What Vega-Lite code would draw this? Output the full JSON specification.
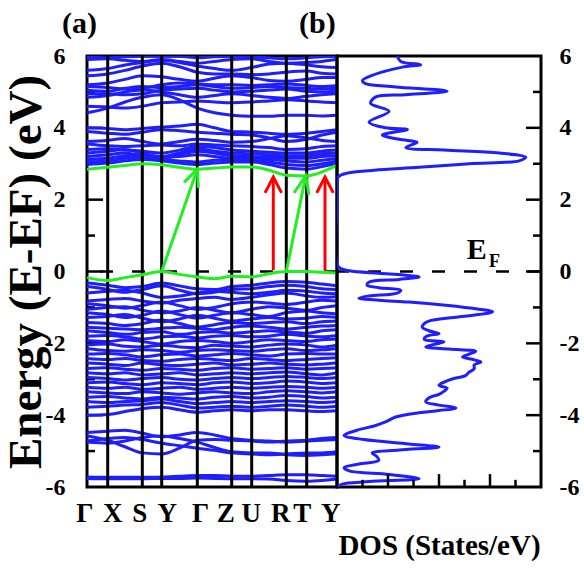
{
  "$schema": "https://vega.github.io/schema/vega-lite/v6.json",
  "padding": {"left": 0, "top": 7, "right": 0, "bottom": 0},
  "spacing": 0,
  "bounds": "flush",
  "config": {
    "font": "Liberation Serif",
    "view": {"stroke": "black", "strokeWidth": 3},
    "axis": {"grid": false, "ticks": false, "domain": false, "labelFont": "Liberation Serif", "labelFontWeight": "bold", "labelColor": "black", "titleFont": "Liberation Serif", "titleFontWeight": "bold", "titleColor": "black"}
  },
  "hconcat": [
    {
      "width": 250,
      "height": 431,
      "layer": [
        {
          "data": {"values": [{"e": -4}, {"e": -2}, {"e": 0}, {"e": 2}, {"e": 4}]},
          "mark": {"type": "rule", "color": "black", "strokeWidth": 2.5},
          "encoding": {
            "y": {"field": "e", "type": "quantitative", "scale": {"domain": [-6, 6], "nice": false, "zero": false}, "axis": {"values": [-6, -4, -2, 0, 2, 4, 6], "labelExpr": "'' + datum.value", "labelFontSize": 24, "labelPadding": 22, "title": "Energy (E-EF) (eV)", "titleFontSize": 47, "titlePadding": -5}},
            "x": {"datum": 0, "type": "quantitative", "scale": {"domain": [0, 250], "nice": false, "zero": false}, "axis": null},
            "x2": {"datum": 16}
          }
        },
        {
          "data": {"values": [{"e": -5}, {"e": -3}, {"e": -1}, {"e": 1}, {"e": 3}, {"e": 5}]},
          "mark": {"type": "rule", "color": "black", "strokeWidth": 2.5},
          "encoding": {
            "y": {"field": "e", "type": "quantitative"},
            "x": {"datum": 0, "type": "quantitative", "axis": null},
            "x2": {"datum": 8}
          }
        },
        {
          "data": {"values": [{"k": 0}]},
          "mark": {"type": "rule", "color": "black", "strokeWidth": 2.5, "strokeDash": [13, 19]},
          "encoding": {"y": {"datum": 0, "type": "quantitative"}}
        },
        {
          "data": {"values": [
            {"b": "c1", "p0": 2.98, "p1": 3.02, "p2": 3.08, "p3": 3.12, "p4": 3.08, "p5": 3.02, "p6": 2.98, "p7": 3.02, "p8": 3.05, "p9": 3.05, "p10": 2.98, "p11": 2.88, "p12": 2.85, "p13": 2.92, "p14": 3.02},
            {"b": "c2", "p0": 3.05, "p1": 3.08, "p2": 3.15, "p3": 3.18, "p4": 3.12, "p5": 3.08, "p6": 3.05, "p7": 3.1, "p8": 3.12, "p9": 3.1, "p10": 3.05, "p11": 2.98, "p12": 2.95, "p13": 3.0, "p14": 3.08},
            {"b": "c3", "p0": 3.12, "p1": 3.15, "p2": 3.22, "p3": 3.25, "p4": 3.18, "p5": 3.2, "p6": 3.25, "p7": 3.2, "p8": 3.15, "p9": 3.15, "p10": 3.12, "p11": 3.08, "p12": 3.05, "p13": 3.1, "p14": 3.15},
            {"b": "c4", "p0": 3.2, "p1": 3.25, "p2": 3.3, "p3": 3.22, "p4": 3.15, "p5": 3.25, "p6": 3.35, "p7": 3.3, "p8": 3.22, "p9": 3.2, "p10": 3.18, "p11": 3.15, "p12": 3.15, "p13": 3.2, "p14": 3.22},
            {"b": "c5", "p0": 3.3, "p1": 3.35, "p2": 3.4, "p3": 3.3, "p4": 3.2, "p5": 3.3, "p6": 3.42, "p7": 3.35, "p8": 3.3, "p9": 3.28, "p10": 3.25, "p11": 3.22, "p12": 3.22, "p13": 3.28, "p14": 3.3},
            {"b": "c6", "p0": 3.4, "p1": 3.42, "p2": 3.38, "p3": 3.35, "p4": 3.3, "p5": 3.38, "p6": 3.48, "p7": 3.45, "p8": 3.38, "p9": 3.35, "p10": 3.32, "p11": 3.3, "p12": 3.3, "p13": 3.35, "p14": 3.38},
            {"b": "c7", "p0": 3.55, "p1": 3.5, "p2": 3.48, "p3": 3.5, "p4": 3.52, "p5": 3.5, "p6": 3.55, "p7": 3.52, "p8": 3.5, "p9": 3.48, "p10": 3.45, "p11": 3.4, "p12": 3.42, "p13": 3.48, "p14": 3.5},
            {"b": "c8", "p0": 3.62, "p1": 3.65, "p2": 3.7, "p3": 3.62, "p4": 3.55, "p5": 3.62, "p6": 3.68, "p7": 3.65, "p8": 3.6, "p9": 3.62, "p10": 3.7, "p11": 3.78, "p12": 3.72, "p13": 3.65, "p14": 3.62},
            {"b": "c9", "p0": 3.9, "p1": 3.85, "p2": 3.82, "p3": 3.88, "p4": 3.95, "p5": 3.92, "p6": 3.88, "p7": 3.85, "p8": 3.82, "p9": 3.8, "p10": 3.72, "p11": 3.62, "p12": 3.68, "p13": 3.8, "p14": 3.88},
            {"b": "c10", "p0": 4.0, "p1": 3.98, "p2": 3.95, "p3": 3.98, "p4": 4.02, "p5": 4.05, "p6": 4.1, "p7": 4.0, "p8": 3.9, "p9": 3.88, "p10": 3.85, "p11": 3.82, "p12": 3.85, "p13": 3.9, "p14": 3.95},
            {"b": "c11", "p0": 4.42, "p1": 4.55, "p2": 4.72, "p3": 4.85, "p4": 4.92, "p5": 4.78, "p6": 4.55, "p7": 4.42, "p8": 4.35, "p9": 4.32, "p10": 4.32, "p11": 4.35, "p12": 4.35, "p13": 4.33, "p14": 4.35},
            {"b": "c12", "p0": 4.6, "p1": 4.58, "p2": 4.55, "p3": 4.6, "p4": 4.7, "p5": 4.72, "p6": 4.75, "p7": 4.72, "p8": 4.7, "p9": 4.72, "p10": 4.75, "p11": 4.78, "p12": 4.75, "p13": 4.72, "p14": 4.7},
            {"b": "c13", "p0": 4.85, "p1": 4.9, "p2": 5.0, "p3": 5.05, "p4": 5.0, "p5": 4.92, "p6": 4.85, "p7": 4.9, "p8": 4.95, "p9": 4.9, "p10": 4.85, "p11": 4.82, "p12": 4.88, "p13": 4.92, "p14": 4.95},
            {"b": "c14", "p0": 4.95, "p1": 4.95, "p2": 4.92, "p3": 4.95, "p4": 5.05, "p5": 5.08, "p6": 5.1, "p7": 5.05, "p8": 5.0, "p9": 5.02, "p10": 5.05, "p11": 5.08, "p12": 5.02, "p13": 5.0, "p14": 5.02},
            {"b": "c15", "p0": 5.05, "p1": 5.02, "p2": 5.1, "p3": 5.15, "p4": 5.12, "p5": 5.15, "p6": 5.2, "p7": 5.15, "p8": 5.1, "p9": 5.12, "p10": 5.15, "p11": 5.12, "p12": 5.1, "p13": 5.08, "p14": 5.1},
            {"b": "c16", "p0": 5.15, "p1": 5.12, "p2": 5.08, "p3": 5.1, "p4": 5.2, "p5": 5.25, "p6": 5.22, "p7": 5.2, "p8": 5.2, "p9": 5.18, "p10": 5.2, "p11": 5.22, "p12": 5.18, "p13": 5.15, "p14": 5.18},
            {"b": "c17", "p0": 5.2, "p1": 5.25, "p2": 5.35, "p3": 5.45, "p4": 5.42, "p5": 5.35, "p6": 5.3, "p7": 5.38, "p8": 5.45, "p9": 5.4, "p10": 5.32, "p11": 5.3, "p12": 5.35, "p13": 5.4, "p14": 5.4},
            {"b": "c18", "p0": 5.45, "p1": 5.5, "p2": 5.6, "p3": 5.72, "p4": 5.8, "p5": 5.7, "p6": 5.55, "p7": 5.5, "p8": 5.5, "p9": 5.48, "p10": 5.5, "p11": 5.55, "p12": 5.58, "p13": 5.52, "p14": 5.5},
            {"b": "c19", "p0": 5.6, "p1": 5.65, "p2": 5.75, "p3": 5.82, "p4": 5.88, "p5": 5.82, "p6": 5.72, "p7": 5.65, "p8": 5.6, "p9": 5.68, "p10": 5.78, "p11": 5.8, "p12": 5.75, "p13": 5.7, "p14": 5.68},
            {"b": "c20", "p0": 5.9, "p1": 5.92, "p2": 5.88, "p3": 5.85, "p4": 5.9, "p5": 5.85, "p6": 5.8, "p7": 5.85, "p8": 5.9, "p9": 5.92, "p10": 5.85, "p11": 5.8, "p12": 5.82, "p13": 5.85, "p14": 5.9},
            {"b": "c21", "p0": 5.98, "p1": 5.95, "p2": 5.98, "p3": 5.99, "p4": 5.99, "p5": 5.99, "p6": 5.95, "p7": 5.98, "p8": 5.99, "p9": 5.98, "p10": 5.95, "p11": 5.92, "p12": 5.95, "p13": 5.98, "p14": 5.99},
            {"b": "v1", "p0": -0.32, "p1": -0.38, "p2": -0.45, "p3": -0.42, "p4": -0.32, "p5": -0.4, "p6": -0.48, "p7": -0.5, "p8": -0.42, "p9": -0.38, "p10": -0.32, "p11": -0.28, "p12": -0.3, "p13": -0.35, "p14": -0.4},
            {"b": "v2", "p0": -0.42, "p1": -0.5, "p2": -0.58, "p3": -0.5, "p4": -0.4, "p5": -0.52, "p6": -0.62, "p7": -0.58, "p8": -0.5, "p9": -0.48, "p10": -0.42, "p11": -0.38, "p12": -0.42, "p13": -0.48, "p14": -0.5},
            {"b": "v3", "p0": -0.6, "p1": -0.55, "p2": -0.52, "p3": -0.6, "p4": -0.72, "p5": -0.68, "p6": -0.6, "p7": -0.55, "p8": -0.58, "p9": -0.62, "p10": -0.58, "p11": -0.52, "p12": -0.55, "p13": -0.6, "p14": -0.62},
            {"b": "v4", "p0": -0.82, "p1": -0.78, "p2": -0.75, "p3": -0.82, "p4": -0.88, "p5": -0.8, "p6": -0.75, "p7": -0.72, "p8": -0.78, "p9": -0.72, "p10": -0.65, "p11": -0.6, "p12": -0.68, "p13": -0.72, "p14": -0.7},
            {"b": "v5", "p0": -0.9, "p1": -0.95, "p2": -1.02, "p3": -0.95, "p4": -0.85, "p5": -0.95, "p6": -1.05, "p7": -1.0, "p8": -0.9, "p9": -0.85, "p10": -0.88, "p11": -0.92, "p12": -0.85, "p13": -0.8, "p14": -0.82},
            {"b": "v6", "p0": -1.05, "p1": -1.0, "p2": -0.98, "p3": -1.08, "p4": -1.15, "p5": -1.1, "p6": -1.0, "p7": -1.08, "p8": -1.15, "p9": -1.05, "p10": -0.98, "p11": -1.02, "p12": -1.08, "p13": -1.0, "p14": -0.95},
            {"b": "v7", "p0": -1.15, "p1": -1.2, "p2": -1.28, "p3": -1.22, "p4": -1.1, "p5": -1.2, "p6": -1.3, "p7": -1.22, "p8": -1.15, "p9": -1.2, "p10": -1.25, "p11": -1.15, "p12": -1.1, "p13": -1.15, "p14": -1.18},
            {"b": "v8", "p0": -1.28, "p1": -1.25, "p2": -1.2, "p3": -1.3, "p4": -1.4, "p5": -1.32, "p6": -1.22, "p7": -1.3, "p8": -1.38, "p9": -1.32, "p10": -1.28, "p11": -1.32, "p12": -1.3, "p13": -1.25, "p14": -1.28},
            {"b": "v9", "p0": -1.42, "p1": -1.45, "p2": -1.5, "p3": -1.45, "p4": -1.35, "p5": -1.45, "p6": -1.55, "p7": -1.48, "p8": -1.42, "p9": -1.45, "p10": -1.42, "p11": -1.4, "p12": -1.45, "p13": -1.4, "p14": -1.38},
            {"b": "v10", "p0": -1.55, "p1": -1.58, "p2": -1.6, "p3": -1.62, "p4": -1.58, "p5": -1.55, "p6": -1.58, "p7": -1.62, "p8": -1.55, "p9": -1.52, "p10": -1.55, "p11": -1.6, "p12": -1.55, "p13": -1.52, "p14": -1.5},
            {"b": "v11", "p0": -1.65, "p1": -1.7, "p2": -1.75, "p3": -1.7, "p4": -1.68, "p5": -1.75, "p6": -1.7, "p7": -1.68, "p8": -1.72, "p9": -1.68, "p10": -1.65, "p11": -1.68, "p12": -1.72, "p13": -1.65, "p14": -1.62},
            {"b": "v12", "p0": -1.8, "p1": -1.78, "p2": -1.82, "p3": -1.88, "p4": -1.82, "p5": -1.8, "p6": -1.85, "p7": -1.8, "p8": -1.78, "p9": -1.82, "p10": -1.8, "p11": -1.75, "p12": -1.8, "p13": -1.82, "p14": -1.78},
            {"b": "v13", "p0": -1.92, "p1": -1.95, "p2": -1.9, "p3": -1.95, "p4": -2.02, "p5": -1.95, "p6": -1.92, "p7": -1.95, "p8": -2.0, "p9": -1.95, "p10": -1.9, "p11": -1.92, "p12": -1.95, "p13": -1.9, "p14": -1.88},
            {"b": "v14", "p0": -2.05, "p1": -2.02, "p2": -2.08, "p3": -2.1, "p4": -2.05, "p5": -2.1, "p6": -2.12, "p7": -2.05, "p8": -2.08, "p9": -2.1, "p10": -2.05, "p11": -2.02, "p12": -2.05, "p13": -2.1, "p14": -2.05},
            {"b": "v15", "p0": -2.15, "p1": -2.2, "p2": -2.22, "p3": -2.18, "p4": -2.2, "p5": -2.25, "p6": -2.2, "p7": -2.18, "p8": -2.2, "p9": -2.22, "p10": -2.18, "p11": -2.15, "p12": -2.2, "p13": -2.18, "p14": -2.15},
            {"b": "v16", "p0": -2.3, "p1": -2.28, "p2": -2.32, "p3": -2.38, "p4": -2.32, "p5": -2.3, "p6": -2.35, "p7": -2.32, "p8": -2.28, "p9": -2.32, "p10": -2.35, "p11": -2.3, "p12": -2.28, "p13": -2.3, "p14": -2.3},
            {"b": "v17", "p0": -2.42, "p1": -2.45, "p2": -2.42, "p3": -2.48, "p4": -2.5, "p5": -2.45, "p6": -2.42, "p7": -2.45, "p8": -2.48, "p9": -2.42, "p10": -2.45, "p11": -2.48, "p12": -2.45, "p13": -2.42, "p14": -2.4},
            {"b": "v18", "p0": -2.55, "p1": -2.58, "p2": -2.62, "p3": -2.55, "p4": -2.6, "p5": -2.62, "p6": -2.58, "p7": -2.55, "p8": -2.6, "p9": -2.58, "p10": -2.55, "p11": -2.58, "p12": -2.6, "p13": -2.58, "p14": -2.55},
            {"b": "v19", "p0": -2.7, "p1": -2.68, "p2": -2.72, "p3": -2.75, "p4": -2.7, "p5": -2.72, "p6": -2.75, "p7": -2.7, "p8": -2.68, "p9": -2.72, "p10": -2.7, "p11": -2.68, "p12": -2.72, "p13": -2.7, "p14": -2.68},
            {"b": "v20", "p0": -2.82, "p1": -2.85, "p2": -2.82, "p3": -2.88, "p4": -2.85, "p5": -2.82, "p6": -2.88, "p7": -2.85, "p8": -2.82, "p9": -2.85, "p10": -2.82, "p11": -2.8, "p12": -2.85, "p13": -2.88, "p14": -2.82},
            {"b": "v21", "p0": -2.95, "p1": -2.98, "p2": -3.02, "p3": -2.98, "p4": -2.95, "p5": -3.0, "p6": -3.02, "p7": -2.98, "p8": -2.95, "p9": -2.98, "p10": -2.95, "p11": -2.92, "p12": -2.95, "p13": -2.98, "p14": -2.95},
            {"b": "v22", "p0": -3.1, "p1": -3.08, "p2": -3.12, "p3": -3.15, "p4": -3.1, "p5": -3.12, "p6": -3.15, "p7": -3.1, "p8": -3.08, "p9": -3.12, "p10": -3.1, "p11": -3.05, "p12": -3.08, "p13": -3.12, "p14": -3.1},
            {"b": "v23", "p0": -3.22, "p1": -3.25, "p2": -3.22, "p3": -3.28, "p4": -3.25, "p5": -3.22, "p6": -3.28, "p7": -3.25, "p8": -3.22, "p9": -3.25, "p10": -3.22, "p11": -3.2, "p12": -3.22, "p13": -3.25, "p14": -3.22},
            {"b": "v24", "p0": -3.35, "p1": -3.38, "p2": -3.4, "p3": -3.35, "p4": -3.38, "p5": -3.42, "p6": -3.38, "p7": -3.35, "p8": -3.38, "p9": -3.4, "p10": -3.35, "p11": -3.32, "p12": -3.35, "p13": -3.38, "p14": -3.35},
            {"b": "v25", "p0": -3.5, "p1": -3.48, "p2": -3.52, "p3": -3.55, "p4": -3.5, "p5": -3.52, "p6": -3.55, "p7": -3.5, "p8": -3.48, "p9": -3.52, "p10": -3.5, "p11": -3.45, "p12": -3.48, "p13": -3.52, "p14": -3.5},
            {"b": "v26", "p0": -3.62, "p1": -3.65, "p2": -3.62, "p3": -3.6, "p4": -3.55, "p5": -3.62, "p6": -3.68, "p7": -3.65, "p8": -3.62, "p9": -3.65, "p10": -3.62, "p11": -3.6, "p12": -3.62, "p13": -3.65, "p14": -3.62},
            {"b": "v27", "p0": -3.78, "p1": -3.75, "p2": -3.72, "p3": -3.7, "p4": -3.65, "p5": -3.72, "p6": -3.8, "p7": -3.78, "p8": -3.75, "p9": -3.78, "p10": -3.75, "p11": -3.72, "p12": -3.75, "p13": -3.78, "p14": -3.75},
            {"b": "v28", "p0": -4.0, "p1": -3.98, "p2": -3.9, "p3": -3.82, "p4": -3.78, "p5": -3.85, "p6": -3.92, "p7": -3.88, "p8": -3.85, "p9": -3.88, "p10": -3.85, "p11": -3.85, "p12": -3.88, "p13": -3.9, "p14": -3.88},
            {"b": "v29", "p0": -4.48, "p1": -4.45, "p2": -4.42, "p3": -4.5, "p4": -4.6, "p5": -4.55, "p6": -4.48, "p7": -4.55, "p8": -4.65, "p9": -4.7, "p10": -4.72, "p11": -4.75, "p12": -4.72, "p13": -4.7, "p14": -4.68},
            {"b": "v30", "p0": -4.58, "p1": -4.7, "p2": -4.88, "p3": -5.05, "p4": -5.08, "p5": -4.92, "p6": -4.7, "p7": -4.68, "p8": -4.7, "p9": -4.72, "p10": -4.75, "p11": -4.72, "p12": -4.7, "p13": -4.65, "p14": -4.62},
            {"b": "v31", "p0": -4.72, "p1": -4.65, "p2": -4.62, "p3": -4.68, "p4": -4.78, "p5": -4.85, "p6": -4.92, "p7": -4.98, "p8": -5.05, "p9": -5.08, "p10": -5.1, "p11": -5.08, "p12": -5.05, "p13": -5.05, "p14": -5.02},
            {"b": "v32", "p0": -4.75, "p1": -4.78, "p2": -4.72, "p3": -4.62, "p4": -4.58, "p5": -4.65, "p6": -4.75, "p7": -4.9, "p8": -5.02, "p9": -5.05, "p10": -5.05, "p11": -5.1, "p12": -5.12, "p13": -5.1, "p14": -5.08},
            {"b": "v33", "p0": -5.72, "p1": -5.73, "p2": -5.73, "p3": -5.73, "p4": -5.72, "p5": -5.7, "p6": -5.68, "p7": -5.68, "p8": -5.7, "p9": -5.7, "p10": -5.68, "p11": -5.66, "p12": -5.66, "p13": -5.68, "p14": -5.7},
            {"b": "v34", "p0": -5.76, "p1": -5.77, "p2": -5.77, "p3": -5.77, "p4": -5.76, "p5": -5.76, "p6": -5.75, "p7": -5.76, "p8": -5.77, "p9": -5.77, "p10": -5.78, "p11": -5.82, "p12": -5.84, "p13": -5.82, "p14": -5.78}
          ]},
          "transform": [
            {"fold": ["p0", "p1", "p2", "p3", "p4", "p5", "p6", "p7", "p8", "p9", "p10", "p11", "p12", "p13", "p14"], "as": ["pt", "e"]},
            {"lookup": "pt", "from": {"data": {"values": [
              {"pt": "p0", "k": 0}, {"pt": "p1", "k": 20.7}, {"pt": "p2", "k": 38}, {"pt": "p3", "k": 55.3}, {"pt": "p4", "k": 74.7},
              {"pt": "p5", "k": 92.5}, {"pt": "p6", "k": 110.3}, {"pt": "p7", "k": 127.5}, {"pt": "p8", "k": 144.7}, {"pt": "p9", "k": 164.7},
              {"pt": "p10", "k": 182}, {"pt": "p11", "k": 199.3}, {"pt": "p12", "k": 219.7}, {"pt": "p13", "k": 235}, {"pt": "p14", "k": 250}
            ]}, "key": "pt", "fields": ["k"]}}
          ],
          "mark": {"type": "line", "color": "#1e1eff", "strokeWidth": 3, "interpolate": "monotone", "clip": true},
          "encoding": {
            "x": {"field": "k", "type": "quantitative", "axis": null},
            "y": {"field": "e", "type": "quantitative"},
            "detail": {"field": "b"}
          }
        },
        {
          "data": {"values": [{"k": 20.7}, {"k": 55.3}, {"k": 74.7}, {"k": 110.3}, {"k": 144.7}, {"k": 164.7}, {"k": 199.3}, {"k": 219.7}]},
          "mark": {"type": "rule", "color": "black", "strokeWidth": 3},
          "encoding": {"x": {"field": "k", "type": "quantitative", "axis": null}}
        },
        {
          "data": {"values": [
            {"g": "cbm", "k": 0, "e": 2.85}, {"g": "cbm", "k": 20.7, "e": 2.9}, {"g": "cbm", "k": 38, "e": 2.95}, {"g": "cbm", "k": 55.3, "e": 3.0}, {"g": "cbm", "k": 74.7, "e": 2.97},
            {"g": "cbm", "k": 92.5, "e": 2.9}, {"g": "cbm", "k": 110.3, "e": 2.85}, {"g": "cbm", "k": 127.5, "e": 2.88}, {"g": "cbm", "k": 144.7, "e": 2.91}, {"g": "cbm", "k": 164.7, "e": 2.91},
            {"g": "cbm", "k": 182, "e": 2.82}, {"g": "cbm", "k": 199.3, "e": 2.68}, {"g": "cbm", "k": 219.7, "e": 2.66}, {"g": "cbm", "k": 235, "e": 2.77}, {"g": "cbm", "k": 250, "e": 2.96},
            {"g": "vbm", "k": 0, "e": -0.17}, {"g": "vbm", "k": 20.7, "e": -0.25}, {"g": "vbm", "k": 38, "e": -0.17}, {"g": "vbm", "k": 55.3, "e": -0.09}, {"g": "vbm", "k": 74.7, "e": 0.0},
            {"g": "vbm", "k": 92.5, "e": -0.08}, {"g": "vbm", "k": 110.3, "e": -0.15}, {"g": "vbm", "k": 127.5, "e": -0.2}, {"g": "vbm", "k": 144.7, "e": -0.13}, {"g": "vbm", "k": 164.7, "e": -0.15},
            {"g": "vbm", "k": 182, "e": -0.06}, {"g": "vbm", "k": 199.3, "e": 0.0}, {"g": "vbm", "k": 219.7, "e": 0.0}, {"g": "vbm", "k": 235, "e": -0.02}, {"g": "vbm", "k": 250, "e": -0.04}
          ]},
          "mark": {"type": "line", "color": "#22ee22", "strokeWidth": 3, "interpolate": "monotone"},
          "encoding": {
            "x": {"field": "k", "type": "quantitative", "axis": null},
            "y": {"field": "e", "type": "quantitative"},
            "detail": {"field": "g"}
          }
        },
        {
          "data": {"values": [
            {"a": "g1s", "o": 1, "k": 74.7, "e": 0.0}, {"a": "g1s", "o": 2, "k": 110.3, "e": 2.85},
            {"a": "g1h", "o": 1, "k": 97, "e": 2.48}, {"a": "g1h", "o": 2, "k": 110.3, "e": 2.85}, {"a": "g1h", "o": 3, "k": 111.3, "e": 2.33},
            {"a": "g2s", "o": 1, "k": 199.3, "e": 0.0}, {"a": "g2s", "o": 2, "k": 218.7, "e": 2.66},
            {"a": "g2h", "o": 1, "k": 207, "e": 2.19}, {"a": "g2h", "o": 2, "k": 218.7, "e": 2.66}, {"a": "g2h", "o": 3, "k": 222, "e": 2.14}
          ]},
          "mark": {"type": "line", "color": "#22ee22", "strokeWidth": 3},
          "encoding": {
            "x": {"field": "k", "type": "quantitative", "axis": null},
            "y": {"field": "e", "type": "quantitative"},
            "detail": {"field": "a"},
            "order": {"field": "o"}
          }
        },
        {
          "data": {"values": [
            {"a": "r1s", "o": 1, "k": 186.3, "e": 0.04}, {"a": "r1s", "o": 2, "k": 186.3, "e": 2.6},
            {"a": "r1h", "o": 1, "k": 178, "e": 2.19}, {"a": "r1h", "o": 2, "k": 186.3, "e": 2.63}, {"a": "r1h", "o": 3, "k": 194.6, "e": 2.19},
            {"a": "r2s", "o": 1, "k": 238, "e": 0.04}, {"a": "r2s", "o": 2, "k": 238, "e": 2.6},
            {"a": "r2h", "o": 1, "k": 229.7, "e": 2.19}, {"a": "r2h", "o": 2, "k": 238, "e": 2.63}, {"a": "r2h", "o": 3, "k": 246.3, "e": 2.19}
          ]},
          "mark": {"type": "line", "color": "#ff0000", "strokeWidth": 3},
          "encoding": {
            "x": {"field": "k", "type": "quantitative", "axis": null},
            "y": {"field": "e", "type": "quantitative"},
            "detail": {"field": "a"},
            "order": {"field": "o"}
          }
        },
        {
          "data": {"values": [
            {"t": "Γ", "k": -2.2}, {"t": "X", "k": 25.7}, {"t": "S", "k": 52.7}, {"t": "Y", "k": 80.3}, {"t": "Γ", "k": 113.7},
            {"t": "Z", "k": 138.7}, {"t": "U", "k": 164.3}, {"t": "R", "k": 193.7}, {"t": "T", "k": 215.3}, {"t": "Y", "k": 243.7}
          ]},
          "mark": {"type": "text", "font": "Liberation Serif", "fontWeight": "bold", "fontSize": 27, "baseline": "top", "align": "center", "dy": 14, "color": "black", "clip": false},
          "encoding": {
            "x": {"field": "k", "type": "quantitative", "axis": null},
            "y": {"datum": -6, "type": "quantitative"},
            "text": {"field": "t"}
          }
        },
        {
          "data": {"values": [{"t": "(a)", "k": -25}]},
          "mark": {"type": "text", "font": "Liberation Serif", "fontWeight": "bold", "fontSize": 30, "baseline": "alphabetic", "align": "left", "dy": -23, "color": "black", "clip": false},
          "encoding": {
            "x": {"field": "k", "type": "quantitative", "axis": null},
            "y": {"datum": 6, "type": "quantitative"},
            "text": {"field": "t"}
          }
        }
      ]
    },
    {
      "width": 204,
      "height": 431,
      "layer": [
        {
          "data": {"values": [{"e": 0}]},
          "mark": {"type": "rule", "color": "black", "strokeWidth": 2.5, "strokeDash": [13, 19]},
          "encoding": {"y": {"datum": 0, "type": "quantitative"}}
        },
        {
          "data": {"values": [
            {"e": 6.0, "d": 11.8}, {"e": 5.85, "d": 12.5}, {"e": 5.76, "d": 16.4}, {"e": 5.69, "d": 12.8}, {"e": 5.46, "d": 6.9},
            {"e": 5.32, "d": 5.0}, {"e": 5.23, "d": 5.6}, {"e": 5.14, "d": 11.5}, {"e": 5.02, "d": 21.6}, {"e": 4.92, "d": 13.5},
            {"e": 4.86, "d": 7.6}, {"e": 4.68, "d": 6.6}, {"e": 4.46, "d": 10.2}, {"e": 4.16, "d": 6.3}, {"e": 4.0, "d": 9.5},
            {"e": 3.95, "d": 13.8}, {"e": 3.8, "d": 8.9}, {"e": 3.68, "d": 12.2}, {"e": 3.6, "d": 15.7}, {"e": 3.45, "d": 13.5},
            {"e": 3.38, "d": 21.0}, {"e": 3.3, "d": 31.8}, {"e": 3.18, "d": 37.0}, {"e": 3.08, "d": 35.7}, {"e": 3.0, "d": 25.9},
            {"e": 2.9, "d": 16.1}, {"e": 2.82, "d": 7.3}, {"e": 2.75, "d": 2.4}, {"e": 2.68, "d": 0.7}, {"e": 2.6, "d": 0.1},
            {"e": 2.0, "d": 0}, {"e": 0.2, "d": 0}, {"e": 0.08, "d": 0.7}, {"e": 0.02, "d": 2.4}, {"e": -0.05, "d": 8.2},
            {"e": -0.1, "d": 13.1}, {"e": -0.15, "d": 16.1}, {"e": -0.22, "d": 12.2}, {"e": -0.29, "d": 6.3}, {"e": -0.38, "d": 5.9},
            {"e": -0.45, "d": 8.2}, {"e": -0.52, "d": 12.5}, {"e": -0.6, "d": 11.8}, {"e": -0.68, "d": 6.3}, {"e": -0.74, "d": 4.3},
            {"e": -0.8, "d": 8.2}, {"e": -0.85, "d": 14.1}, {"e": -0.94, "d": 21.3}, {"e": -1.05, "d": 27.8}, {"e": -1.12, "d": 30.5},
            {"e": -1.2, "d": 27.8}, {"e": -1.28, "d": 22.9}, {"e": -1.38, "d": 18.0}, {"e": -1.45, "d": 17.1}, {"e": -1.55, "d": 16.7},
            {"e": -1.65, "d": 18.0}, {"e": -1.73, "d": 20.0}, {"e": -1.8, "d": 17.6}, {"e": -1.89, "d": 17.1}, {"e": -1.96, "d": 21.0},
            {"e": -2.03, "d": 19.0}, {"e": -2.1, "d": 17.4}, {"e": -2.16, "d": 22.0}, {"e": -2.22, "d": 27.2}, {"e": -2.3, "d": 25.9},
            {"e": -2.38, "d": 24.6}, {"e": -2.46, "d": 26.9}, {"e": -2.52, "d": 28.2}, {"e": -2.6, "d": 26.9}, {"e": -2.71, "d": 26.9},
            {"e": -2.8, "d": 25.9}, {"e": -2.9, "d": 25.2}, {"e": -2.98, "d": 22.9}, {"e": -3.08, "d": 21.0}, {"e": -3.17, "d": 20.0},
            {"e": -3.25, "d": 21.6}, {"e": -3.33, "d": 21.0}, {"e": -3.42, "d": 20.0}, {"e": -3.52, "d": 18.0}, {"e": -3.63, "d": 17.4},
            {"e": -3.72, "d": 20.0}, {"e": -3.8, "d": 23.3}, {"e": -3.87, "d": 20.0}, {"e": -3.93, "d": 16.1}, {"e": -4.05, "d": 11.5},
            {"e": -4.19, "d": 9.5}, {"e": -4.3, "d": 7.3}, {"e": -4.42, "d": 3.9}, {"e": -4.56, "d": 1.4}, {"e": -4.68, "d": 5.3},
            {"e": -4.8, "d": 14.1}, {"e": -4.89, "d": 20.0}, {"e": -4.97, "d": 12.2}, {"e": -5.05, "d": 6.9}, {"e": -5.15, "d": 7.8},
            {"e": -5.26, "d": 8.2}, {"e": -5.36, "d": 4.3}, {"e": -5.46, "d": 1.4}, {"e": -5.55, "d": 2.4}, {"e": -5.65, "d": 10.2},
            {"e": -5.77, "d": 16.1}, {"e": -5.85, "d": 6.3}, {"e": -5.92, "d": 1.0}, {"e": -6.0, "d": 0.2}
          ]},
          "mark": {"type": "line", "color": "#1e1eff", "strokeWidth": 3, "interpolate": "catmull-rom", "clip": true},
          "encoding": {
            "x": {"field": "d", "type": "quantitative", "scale": {"domain": [0, 40], "nice": false, "zero": false}, "axis": {"labels": false, "title": "DOS (States/eV)", "titleFontSize": 29, "titlePadding": 44}},
            "y": {"field": "e", "type": "quantitative", "scale": {"domain": [-6, 6], "nice": false, "zero": false}, "axis": {"orient": "right", "values": [-6, -4, -2, 0, 2, 4, 6], "labelExpr": "'' + datum.value", "labelFontSize": 24, "labelPadding": 18, "title": null}},
            "order": {"field": "e", "sort": "descending"}
          }
        },
        {
          "data": {"values": [{"d": 10}, {"d": 20}, {"d": 30}]},
          "mark": {"type": "rule", "color": "black", "strokeWidth": 2.5},
          "encoding": {"x": {"field": "d", "type": "quantitative"}, "y": {"datum": -6, "type": "quantitative"}, "y2": {"datum": -5.64}}
        },
        {
          "data": {"values": [{"d": 5}, {"d": 15}, {"d": 25}, {"d": 35}]},
          "mark": {"type": "rule", "color": "black", "strokeWidth": 2.5},
          "encoding": {"x": {"field": "d", "type": "quantitative"}, "y": {"datum": -6, "type": "quantitative"}, "y2": {"datum": -5.8}}
        },
        {
          "data": {"values": [{"e": -4}, {"e": -2}, {"e": 0}, {"e": 2}, {"e": 4}]},
          "mark": {"type": "rule", "color": "black", "strokeWidth": 2.5},
          "encoding": {"y": {"field": "e", "type": "quantitative"}, "x": {"datum": 40, "type": "quantitative"}, "x2": {"datum": 37.06}}
        },
        {
          "data": {"values": [{"e": -5}, {"e": -3}, {"e": -1}, {"e": 1}, {"e": 3}, {"e": 5}]},
          "mark": {"type": "rule", "color": "black", "strokeWidth": 2.5},
          "encoding": {"y": {"field": "e", "type": "quantitative"}, "x": {"datum": 40, "type": "quantitative"}, "x2": {"datum": 38.43}}
        },
        {
          "data": {"values": [{"t": "E", "d": 27.4, "e": 0.35}]},
          "mark": {"type": "text", "font": "Liberation Serif", "fontWeight": "bold", "fontSize": 30, "baseline": "alphabetic", "align": "center", "color": "black"},
          "encoding": {"x": {"field": "d", "type": "quantitative"}, "y": {"field": "e", "type": "quantitative"}, "text": {"field": "t"}}
        },
        {
          "data": {"values": [{"t": "F", "d": 30.9, "e": 0.12}]},
          "mark": {"type": "text", "font": "Liberation Serif", "fontWeight": "bold", "fontSize": 18, "baseline": "alphabetic", "align": "center", "color": "black"},
          "encoding": {"x": {"field": "d", "type": "quantitative"}, "y": {"field": "e", "type": "quantitative"}, "text": {"field": "t"}}
        },
        {
          "data": {"values": [{"t": "(b)", "d": -7.45}]},
          "mark": {"type": "text", "font": "Liberation Serif", "fontWeight": "bold", "fontSize": 30, "baseline": "alphabetic", "align": "left", "dy": -23, "color": "black", "clip": false},
          "encoding": {"x": {"field": "d", "type": "quantitative"}, "y": {"datum": 6, "type": "quantitative"}, "text": {"field": "t"}}
        }
      ]
    }
  ]
}
